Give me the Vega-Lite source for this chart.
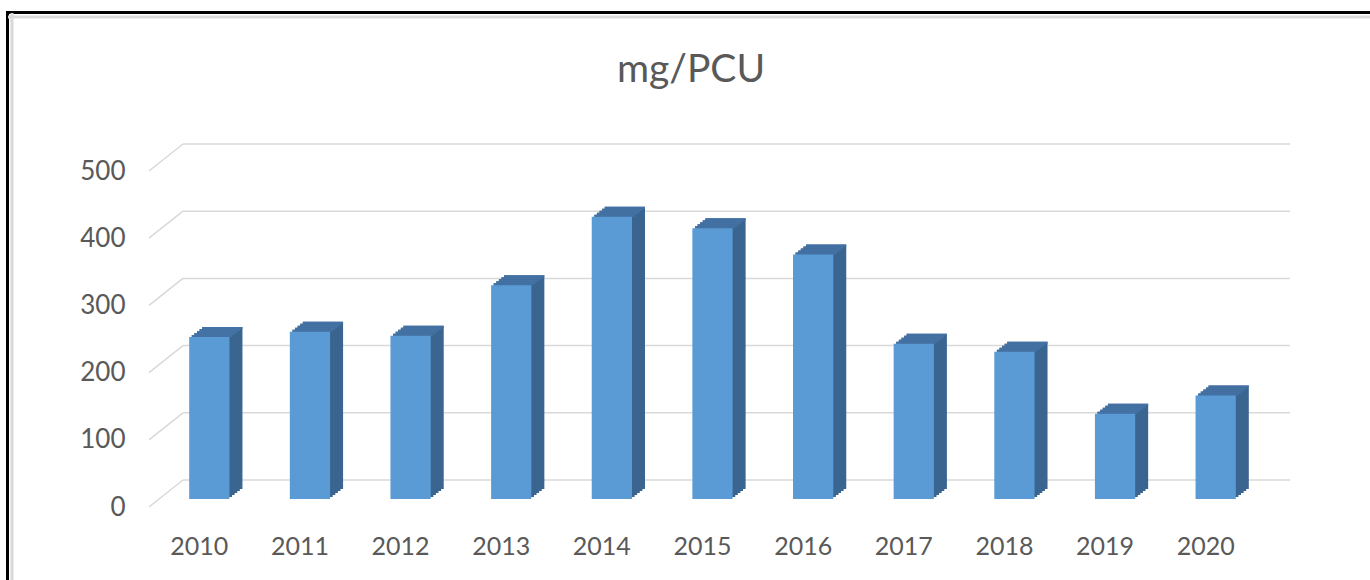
{
  "$schema": "https://vega.github.io/schema/vega-lite/v6.json",
  "autosize": "none",
  "padding": {"left": 7.5, "top": 12.5, "right": 0, "bottom": 0},
  "width": 1420,
  "height": 620,
  "background": "white",
  "config": {
    "view": {"stroke": "black", "strokeWidth": 3},
    "font": "Lato",
    "axis": {"labelFont": "Lato", "labelColor": "#595959", "grid": false, "ticks": false, "domain": false, "title": null}
  },
  "title": {"text": "mg/PCU", "anchor": "middle", "frame": "group", "dx": -26.5, "offset": -111, "baseline": "alphabetic", "fontSize": 39, "font": "Lato", "color": "#595959", "fontWeight": "normal"},
  "datasets": {
    "bars": [
      {"year": "2010", "v": 241},
      {"year": "2011", "v": 249},
      {"year": "2012", "v": 243},
      {"year": "2013", "v": 318},
      {"year": "2014", "v": 420},
      {"year": "2015", "v": 403},
      {"year": "2016", "v": 364},
      {"year": "2017", "v": 231},
      {"year": "2018", "v": 219},
      {"year": "2019", "v": 127},
      {"year": "2020", "v": 154}
    ],
    "grid": [{"g": 0}, {"g": 100}, {"g": 200}, {"g": 300}, {"g": 400}, {"g": 500}],
    "frame": [{"b": 0}, {"b": 1}]
  },
  "layer": [
    {
      "encoding": {
        "x": {"field": "year", "type": "ordinal", "scale": {"range": [141.5, 1248.5], "paddingInner": 0, "paddingOuter": 0}, "axis": {"orient": "bottom", "offset": -125.5, "labelPadding": 27, "labelFontSize": 25, "labelAngle": 0}},
        "y": {"field": "v", "type": "quantitative", "scale": {"domain": [0, 500], "range": [494.5, 158.5], "nice": false}, "axis": {"orient": "left", "offset": -141.5, "labelPadding": 24, "labelFontSize": 26, "values": [0, 100, 200, 300, 400, 500]}}
      },
      "layer": [
        {
          "data": {"name": "grid"},
          "mark": {"type": "rule", "color": "#D9D9D9", "strokeWidth": 1.5, "xOffset": 34, "x2Offset": 34, "yOffset": -27, "y2Offset": -27},
          "encoding": {
            "x": {"datum": "2010", "type": "ordinal", "bandPosition": 0},
            "x2": {"datum": "2020", "bandPosition": 1},
            "y": {"field": "g", "type": "quantitative"},
            "y2": {"field": "g"}
          }
        },
        {
          "data": {"name": "grid"},
          "mark": {"type": "rule", "color": "#D9D9D9", "strokeWidth": 1.5, "x2Offset": 34, "y2Offset": -27},
          "encoding": {
            "x": {"datum": "2010", "type": "ordinal", "bandPosition": 0},
            "x2": {"datum": "2010", "bandPosition": 0},
            "y": {"field": "g", "type": "quantitative"},
            "y2": {"field": "g"}
          }
        },
        {"data": {"name": "bars"}, "mark": {"type": "bar", "color": "#3A6590", "width": {"band": 0.4}, "xOffset": 23, "yOffset": -18, "y2Offset": -18}},
        {"data": {"name": "bars"}, "mark": {"type": "bar", "color": "#3A6590", "width": {"band": 0.4}, "xOffset": 20.4, "yOffset": -16, "y2Offset": -16}},
        {"data": {"name": "bars"}, "mark": {"type": "bar", "color": "#3A6590", "width": {"band": 0.4}, "xOffset": 17.8, "yOffset": -14, "y2Offset": -14}},
        {"data": {"name": "bars"}, "mark": {"type": "bar", "color": "#3A6590", "width": {"band": 0.4}, "xOffset": 15.2, "yOffset": -12, "y2Offset": -12}},
        {"data": {"name": "bars"}, "mark": {"type": "bar", "color": "#3A6590", "width": {"band": 0.4}, "xOffset": 12.6, "yOffset": -10, "y2Offset": -10}},
        {"data": {"name": "bars"}, "mark": {"type": "bar", "color": "#4472A4", "width": {"band": 0.4}, "xOffset": 12.6, "yOffset": -10, "y2Offset": -8}, "encoding": {"y2": {"field": "v"}}},
        {"data": {"name": "bars"}, "mark": {"type": "bar", "color": "#4472A4", "width": {"band": 0.4}, "xOffset": 15.2, "yOffset": -12, "y2Offset": -10}, "encoding": {"y2": {"field": "v"}}},
        {"data": {"name": "bars"}, "mark": {"type": "bar", "color": "#4472A4", "width": {"band": 0.4}, "xOffset": 17.8, "yOffset": -14, "y2Offset": -12}, "encoding": {"y2": {"field": "v"}}},
        {"data": {"name": "bars"}, "mark": {"type": "bar", "color": "#4472A4", "width": {"band": 0.4}, "xOffset": 20.4, "yOffset": -16, "y2Offset": -14}, "encoding": {"y2": {"field": "v"}}},
        {"data": {"name": "bars"}, "mark": {"type": "bar", "color": "#4472A4", "width": {"band": 0.4}, "xOffset": 23, "yOffset": -18, "y2Offset": -16}, "encoding": {"y2": {"field": "v"}}},
        {"data": {"name": "bars"}, "mark": {"type": "bar", "color": "#5B9BD5", "width": {"band": 0.4}, "xOffset": 10, "yOffset": -8, "y2Offset": -8}}
      ]
    },
    {
      "data": {"name": "frame"},
      "mark": {"type": "point", "opacity": 0},
      "encoding": {
        "x": {"field": "b", "type": "quantitative", "scale": {"domain": [0, 1], "nice": false, "zero": false}, "axis": {"orient": "top", "offset": -4, "domain": true, "domainColor": "#D9D9D9", "domainWidth": 3, "labels": false, "ticks": false}},
        "y": {"field": "b", "type": "quantitative", "scale": {"domain": [0, 1], "nice": false, "zero": false}, "axis": {"orient": "left", "offset": -4, "domain": true, "domainColor": "#D9D9D9", "domainWidth": 3, "labels": false, "ticks": false}}
      }
    }
  ],
  "resolve": {"scale": {"x": "independent", "y": "independent"}, "axis": {"x": "independent", "y": "independent"}}
}
